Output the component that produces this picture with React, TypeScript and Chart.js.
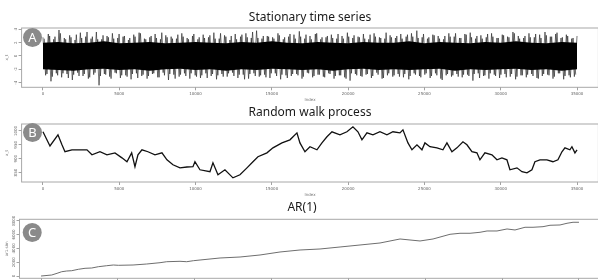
import React, { useEffect, useRef } from "react";
import { Chart, registerables } from "chart.js";
Chart.register(...registerables);

// ---------- shared axis ticks ----------
const indexTicks = [0, 5000, 10000, 15000, 20000, 25000, 30000, 35000];
const lastIndex = 35000;

// ---------- Panel A: stationary series ----------
const statTicksY = [-4, -2, 0, 2, 4];
const statCoreIdx = [0, 1000, 2000, 3000, 4000, 5000, 6000, 7000, 8000, 9000, 10000, 11000, 12000, 13000, 14000, 15000, 16000, 17000, 18000, 19000, 20000, 21000, 22000, 23000, 24000, 25000, 26000, 27000, 28000, 29000, 30000, 31000, 32000, 33000, 34000, 35000];
const statCoreHi = [2.0, 2.1, 1.9, 2.0, 2.2, 1.9, 2.0, 2.1, 1.9, 2.0, 2.1, 2.0, 1.9, 2.1, 2.0, 2.2, 2.0, 1.9, 2.1, 2.0, 1.9, 2.1, 2.0, 2.0, 2.2, 1.9, 2.1, 2.0, 1.9, 2.1, 2.0, 2.2, 2.0, 1.9, 2.1, 2.0];
const statCoreLo = [-2.0, -2.1, -2.2, -2.0, -1.9, -2.1, -2.0, -2.2, -2.0, -1.9, -2.1, -2.0, -2.2, -2.0, -2.1, -1.9, -2.0, -2.1, -2.0, -2.2, -2.0, -1.9, -2.1, -2.0, -2.1, -2.0, -1.9, -2.2, -2.0, -2.1, -2.0, -1.9, -2.1, -2.0, -2.2, -2.0];
const statStep = 350;
const statPeaks1 = [
  2.8, 3.3, 2.5, 3.9, 2.7, 3.1, 2.4, 3.5, 2.9, 2.6,
  3.6, 2.5, 3.0, 3.4, 2.7, 2.9, 2.4, 3.2, 3.5, 2.6,
  2.8, 3.3, 2.5, 3.1, 2.9, 2.6, 3.4, 2.7, 3.0, 2.5,
  3.2, 2.8, 3.5, 2.6, 3.1, 2.4, 3.3, 2.9, 3.4, 2.7,
  3.8, 2.6, 3.0, 2.8, 3.4, 2.5, 2.9, 3.2, 3.7, 2.6,
  3.0, 3.3, 2.5, 2.8, 3.2, 2.6, 3.0, 3.5, 2.7, 2.9,
  3.3, 2.5, 3.4, 2.8, 2.6, 3.1, 2.7, 3.3, 2.9, 3.4,
  3.8, 2.8, 2.6, 3.2, 3.0, 2.5, 3.4, 2.9, 2.7, 3.3,
  3.5, 2.6, 3.1, 2.8, 3.4, 2.7, 3.2, 2.9, 3.6, 3.0,
  2.7, 3.4, 2.8, 3.2, 3.6, 2.9, 3.3, 2.7, 3.2, 2.6,
  3.0,
];
const statTroughs1 = [
  -2.9, -3.8, -2.6, -3.2, -2.7, -3.6, -2.5, -3.0, -3.4, -2.8,
  -4.4, -2.7, -3.1, -2.5, -3.3, -2.9, -3.5, -2.6, -3.0, -3.4,
  -2.7, -3.2, -2.5, -3.6, -2.8, -3.1, -2.6, -3.4, -2.9, -3.3,
  -2.6, -3.0, -3.5, -2.7, -3.1, -2.5, -3.3, -2.8, -3.4, -2.6,
  -3.1, -2.8, -3.3, -2.6, -3.5, -2.9, -3.0, -2.7, -3.4, -2.5,
  -3.2, -2.8, -3.1, -2.6, -3.4, -2.9, -3.2, -3.7, -2.7, -3.0,
  -2.8, -3.3, -2.5, -3.4, -2.9, -3.1, -2.7, -3.2, -3.5, -2.6,
  -3.0, -2.8, -3.3, -2.6, -3.4, -2.9, -3.1, -2.7, -3.2, -2.8,
  -3.7, -2.6, -3.0, -3.4, -2.8, -3.3, -2.7, -3.1, -3.5, -2.9,
  -3.2, -2.7, -3.3, -3.0, -2.8, -3.4, -2.6, -3.5, -2.9, -3.1,
];
const statPeaks2 = [
  2.6, 3.0, 2.9, 3.4, 2.5, 2.8, 3.2, 2.7, 3.6, 2.9,
  2.5, 3.1, 2.8, 2.6, 3.3, 3.0, 2.7, 2.9, 3.4, 2.5,
  3.0, 2.7, 3.5, 2.8, 2.6, 3.2, 2.9, 2.5, 3.3, 2.8,
  2.7, 3.1, 2.6, 3.4, 2.9, 3.0, 2.5, 3.2, 2.8, 3.6,
  2.7, 3.0, 2.9, 2.6, 3.1, 2.8, 3.3, 2.6, 2.9, 3.2,
  2.5, 3.4, 2.8, 3.0, 2.7, 3.3, 2.6, 2.9, 3.1, 2.8,
  2.6, 3.2, 2.9, 2.7, 3.5, 2.8, 3.0, 2.6, 3.2, 2.9,
  2.7, 3.3, 2.8, 3.1, 2.6, 3.0, 2.9, 3.4, 2.7, 3.2,
  2.8, 3.0, 2.6, 3.3, 2.9, 2.7, 3.1, 2.8, 3.4, 2.6,
  3.0, 2.8, 3.3, 2.7, 3.1, 2.9, 3.5, 2.8, 3.0, 2.7,
];
const statTroughs2 = [
  -2.7, -3.1, -2.9, -2.6, -3.3, -2.8, -3.0, -2.7, -3.2, -2.5,
  -3.0, -2.8, -3.4, -2.6, -2.9, -3.1, -2.7, -3.3, -2.8, -3.0,
  -2.6, -3.2, -2.9, -2.7, -3.4, -2.8, -3.0, -2.6, -3.1, -2.9,
  -3.3, -2.7, -2.9, -3.1, -2.6, -3.0, -2.8, -3.5, -2.7, -3.0,
  -2.9, -3.2, -2.6, -3.0, -2.8, -3.3, -2.7, -2.9, -3.1, -2.6,
  -3.0, -2.8, -3.2, -2.7, -3.0, -2.9, -3.4, -2.6, -2.9, -3.1,
  -2.7, -3.0, -2.8, -3.3, -2.6, -2.9, -3.1, -2.7, -3.0, -2.8,
  -3.2, -2.6, -3.0, -2.9, -3.6, -2.7, -2.9, -3.1, -2.8, -3.0,
  -2.7, -3.3, -2.9, -2.6, -3.0, -2.8, -3.2, -2.7, -3.1, -2.9,
  -2.8, -3.0, -3.4, -2.7, -2.9, -3.1, -2.6, -3.0, -3.2, -2.8,
];

// ---------- Panel B: random walk ----------
const rwTicksY = [850, 900, 950, 1000];
const rwIdx = [0, 459, 983, 1245, 1442, 1900, 2425, 2883, 3211, 3735, 4194, 4718, 5177, 5505, 5813, 6029, 6225, 6487, 6881, 7340, 7798, 8126, 8519, 8978, 9436, 9830, 9961, 10288, 10944, 11140, 11468, 11926, 12451, 12910, 13369, 13761, 14089, 14679, 15072, 15662, 16186, 16645, 16841, 17169, 17497, 17955, 18283, 18611, 18939, 19462, 19921, 20314, 20642, 20904, 21232, 21625, 22084, 22542, 22936, 23394, 23591, 23919, 24181, 24509, 24836, 25032, 25360, 25819, 26212, 26474, 26802, 27129, 27523, 27785, 28112, 28440, 28637, 28964, 29423, 29751, 30078, 30406, 30603, 31062, 31389, 31717, 32044, 32241, 32569, 33027, 33420, 33748, 34010, 34207, 34534, 34665, 34862, 35000];
const rwVal = [997, 946, 986, 950, 925, 932, 932, 932, 914, 925, 914, 921, 903, 889, 921, 871, 914, 932, 925, 914, 921, 896, 878, 867, 870, 871, 889, 860, 853, 885, 842, 860, 831, 842, 867, 889, 907, 921, 939, 957, 968, 993, 957, 925, 943, 932, 957, 979, 997, 986, 997, 1015, 997, 968, 993, 986, 997, 986, 997, 993, 1004, 957, 932, 950, 932, 957, 943, 939, 932, 957, 925, 939, 961, 950, 925, 921, 896, 921, 914, 896, 903, 896, 860, 867, 853, 849, 860, 889, 896, 896, 889, 896, 925, 939, 932, 943, 921, 932];

// ---------- Panel C: AR(1) ----------
const arTicksY = [0, 2000, 4000, 6000, 8000];
const arIdx = [0, 696, 1041, 1347, 1672, 1997, 2427, 2863, 3299, 3728, 4274, 4704, 5029, 5986, 6877, 7742, 8178, 9043, 9479, 9909, 10345, 11646, 12947, 14248, 15549, 16851, 18152, 19453, 20754, 22055, 23357, 24007, 24658, 25504, 26610, 27260, 27911, 28561, 29017, 29667, 30318, 30838, 31489, 32009, 32660, 33115, 33766, 34221, 34612, 35000];
const arVal = [0, 145, 391, 622, 724, 767, 970, 1114, 1158, 1346, 1490, 1592, 1548, 1592, 1736, 1925, 2069, 2127, 2069, 2214, 2315, 2605, 2749, 3039, 3473, 3762, 3907, 4196, 4486, 4775, 5354, 5209, 5065, 5354, 6034, 6179, 6179, 6323, 6512, 6512, 6801, 6656, 7047, 7047, 7134, 7336, 7380, 7626, 7770, 7770];

const pts = (xs: number[], ys: number[]) => xs.map((x, i) => ({ x, y: ys[i] }));

function zigzag(peaks: number[], troughs: number[], step: number, offset: number) {
  const out: { x: number; y: number }[] = [];
  peaks.forEach((p, i) => {
    out.push({ x: offset + i * step, y: p });
    if (i < troughs.length) out.push({ x: offset + i * step + step / 2, y: troughs[i] });
  });
  return out.filter((d) => d.x <= lastIndex);
}

type PanelCfg = {
  top: number; height: number; padTop: number; padRight: number; yAreaW: number; xAxisH: number;
  xMin: number; xMax: number; yMin: number; yMax: number; yTicks: number[];
  title: string; titleY: number; titleX?: number; badge: string; badgeX: number; badgeY: number;
  yTitle: string; yLabelX: number; datasets: any[];
};

function panelPlugin(p: PanelCfg) {
  return {
    id: "panelDeco" + p.badge,
    afterDraw(chart: any) {
      const { ctx, chartArea } = chart;
      const ys = chart.scales.y;
      ctx.save();
      ctx.strokeStyle = "#a8a8a8";
      ctx.lineWidth = 1;
      ctx.strokeRect(chartArea.left, chartArea.top, chartArea.right - chartArea.left, chartArea.bottom - chartArea.top);
      ctx.fillStyle = "#666";
      ctx.font = '4px "DejaVu Sans"';
      ctx.textAlign = "center";
      ctx.textBaseline = "middle";
      p.yTicks.forEach((v) => {
        const py = ys.getPixelForValue(v);
        ctx.save();
        ctx.translate(p.yLabelX, py);
        ctx.rotate(-Math.PI / 2);
        ctx.fillText(String(v), 0, 0);
        ctx.restore();
      });
      ctx.fillStyle = "#1a1a1a";
      ctx.font = '12px "Noto Sans"';
      const tx = p.titleX !== undefined ? p.titleX : (chartArea.left + chartArea.right) / 2;
      ctx.fillText(p.title, tx, p.titleY);
      ctx.beginPath();
      ctx.arc(p.badgeX, p.badgeY, 9.5, 0, Math.PI * 2);
      ctx.fillStyle = "#8a8a8a";
      ctx.fill();
      ctx.fillStyle = "#ffffff";
      ctx.font = '13px "Noto Sans"';
      ctx.fillText(p.badge, p.badgeX, p.badgeY + 0.5);
      ctx.restore();
    },
  };
}

function makeConfig(p: PanelCfg): any {
  const grid = { display: true, drawOnChartArea: false, drawTicks: true, tickLength: 3, color: "#8a8a8a", lineWidth: 0.8 };
  return {
    type: "line",
    data: { datasets: p.datasets },
    options: {
      animation: false,
      responsive: false,
      maintainAspectRatio: false,
      events: [],
      layout: { padding: { top: p.padTop, right: p.padRight, left: 0, bottom: 0 }, autoPadding: false },
      plugins: { legend: { display: false }, tooltip: { enabled: false }, title: { display: false } },
      elements: { point: { radius: 0 }, line: { tension: 0 } },
      scales: {
        x: {
          type: "linear",
          min: p.xMin,
          max: p.xMax,
          afterBuildTicks: (s: any) => { s.ticks = indexTicks.map((v) => ({ value: v })); },
          afterFit: (s: any) => { s.height = p.xAxisH; },
          grid,
          border: { display: false },
          ticks: { font: { size: 4, family: "DejaVu Sans" }, color: "#666", padding: 1.5, maxRotation: 0, minRotation: 0, autoSkip: false, callback: (v: any) => String(v) },
          title: { display: true, text: "Index", font: { size: 4, family: "DejaVu Sans" }, color: "#777", padding: { top: 0, bottom: 2 } },
        },
        y: {
          type: "linear",
          min: p.yMin,
          max: p.yMax,
          afterBuildTicks: (s: any) => { s.ticks = p.yTicks.map((v) => ({ value: v })); },
          afterFit: (s: any) => { s.width = p.yAreaW; },
          grid,
          border: { display: false },
          ticks: { display: false },
          title: { display: true, text: p.yTitle, font: { size: 4, family: "DejaVu Sans" }, color: "#777", padding: { top: 5, bottom: 0 } },
        },
      },
    },
    plugins: [panelPlugin(p)],
  };
}

const panels: PanelCfg[] = [
  {
    top: 0, height: 104, padTop: 28, padRight: 3.6, yAreaW: 21.6, xAxisH: 16.7,
    xMin: -1400, xMax: 36400, yMin: -4.7, yMax: 4.2, yTicks: statTicksY,
    title: "Stationary time series", titleY: 18, badge: "A", badgeX: 32.5, badgeY: 37.5,
    yTitle: "x_t", yLabelX: 16,
    datasets: [
      { data: pts(statCoreIdx, statCoreHi), borderColor: "rgba(0,0,0,0)", borderWidth: 0, backgroundColor: "#000", fill: "+1" },
      { data: pts(statCoreIdx, statCoreLo), borderColor: "rgba(0,0,0,0)", borderWidth: 0, fill: false },
      { data: zigzag(statPeaks1, statTroughs1, statStep, 0), borderColor: "#1a1a1a", borderWidth: 0.6, fill: false },
      { data: zigzag(statPeaks2, statTroughs2, statStep, statStep / 4), borderColor: "#1a1a1a", borderWidth: 0.6, fill: false },
    ],
  },
  {
    top: 96, height: 103, padTop: 28, padRight: 3.6, yAreaW: 21.6, xAxisH: 17,
    xMin: -1400, xMax: 36400, yMin: 816, yMax: 1025, yTicks: rwTicksY,
    title: "Random walk process", titleY: 17, badge: "B", badgeX: 32.5, badgeY: 36.5,
    yTitle: "x_t", yLabelX: 16,
    datasets: [{ data: pts(rwIdx, rwVal), borderColor: "#111", borderWidth: 1.3, fill: false }],
  },
  {
    top: 192, height: 104, padTop: 27.3, padRight: 1.5, yAreaW: 19.5, xAxisH: 17.7,
    xMin: -1400, xMax: 36400, yMin: -330, yMax: 8200, yTicks: arTicksY,
    title: "AR(1)", titleY: 16, titleX: 302, badge: "C", badgeX: 32.2, badgeY: 40.5,
    yTitle: "ar1.sim", yLabelX: 14,
    datasets: [{ data: pts(arIdx, arVal), borderColor: "#6e6e6e", borderWidth: 1, fill: false }],
  },
];

function Panel({ cfg }: { cfg: PanelCfg }) {
  const ref = useRef<HTMLCanvasElement | null>(null);
  useEffect(() => {
    const chart = new Chart(ref.current as HTMLCanvasElement, makeConfig(cfg));
    return () => chart.destroy();
  }, []);
  return (
    <canvas
      ref={ref}
      width={602}
      height={cfg.height}
      style={{ position: "absolute", left: 0, top: cfg.top, width: 602, height: cfg.height, display: "block" }}
    />
  );
}

export default function App() {
  return (
    <div style={{ position: "fixed", left: 0, top: 0, width: 598, height: 280, overflow: "hidden", background: "#fff" }}>
      {panels.map((p) => (
        <Panel key={p.badge} cfg={p} />
      ))}
    </div>
  );
}
